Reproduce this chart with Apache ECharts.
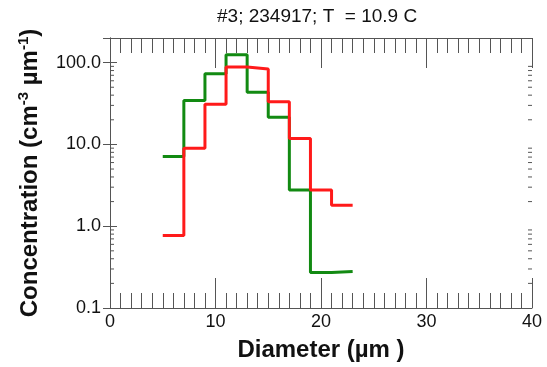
<!DOCTYPE html>
<html>
<head>
<meta charset="utf-8">
<script src="https://cdn.jsdelivr.net/npm/echarts@6/dist/echarts.min.js"></script>
<style>
  html, body { margin: 0; padding: 0; background: #fff; }
  #chart { width: 547px; height: 367px; }
</style>
</head>
<body>
<div id="chart"></div>
<script>
// bin edges (µm) and concentrations per bin
var binEdges = [5, 7, 9, 11, 13, 15, 17, 19, 21, 23];
var greenConc = [7.1, 34.4, 73, 125, 43.4, 21.5, 2.77, 0.272, 0.28];
var redConc = [0.77, 9.0, 31, 88.6, 83.8, 33.2, 11.8, 2.77, 1.8];
var yTickLabels = ['0.1', '1.0', '10.0', '100.0'];
var minorLogTicks = [0.2, 0.3, 0.4, 0.5, 0.6, 0.7, 0.8, 0.9,
  2, 3, 4, 5, 6, 7, 8, 9, 20, 30, 40, 50, 60, 70, 80, 90];

// step points: left edge of each bin, plus final right edge
function stepData(vals) {
  var out = [];
  for (var i = 0; i < vals.length; i++) out.push([binEdges[i], vals[i]]);
  out.push([binEdges[binEdges.length - 1], vals[vals.length - 1]]);
  return out;
}

var axisColor = '#555';
var font = 'Liberation Sans, Arial, sans-serif';

let myChart = echarts.init(document.getElementById('chart'));

let xCommon = {
  type: 'value',
  min: 0,
  max: 40,
  interval: 10,
  axisLine: { show: true, lineStyle: { color: axisColor, width: 1 } },
  axisTick: { show: true, inside: true, length: 30, lineStyle: { color: axisColor } },
  minorTick: { show: true, splitNumber: 10, length: 15, lineStyle: { color: axisColor } },
  splitLine: { show: false }
};

let yCommon = {
  type: 'log',
  logBase: 10,
  min: 0.1,
  max: 200,
  axisLine: { show: true, lineStyle: { color: axisColor, width: 1 } },
  axisTick: { show: true, inside: true, length: 7, lineStyle: { color: axisColor } },
  splitLine: { show: false }
};

let option = {
  animation: false,
  title: {
    text: '#3; 234917; T  = 10.9 C',
    left: 212,
    top: 2,
    textStyle: { fontSize: 19, fontWeight: 'normal', color: '#111', fontFamily: font }
  },
  grid: { left: 110, right: 15, top: 38, bottom: 58 },
  xAxis: [
    Object.assign({}, xCommon, {
      position: 'bottom',
      name: 'Diameter (µm )',
      nameLocation: 'middle',
      nameGap: 30,
      nameTextStyle: { fontSize: 24, fontWeight: 'bold', color: '#111', fontFamily: font },
      axisLabel: { fontSize: 18, color: '#111', margin: 5, fontFamily: font }
    }),
    Object.assign({}, xCommon, {
      position: 'top',
      axisLabel: { show: false }
    })
  ],
  yAxis: [
    Object.assign({}, yCommon, {
      position: 'left',
      name: '{b|Concentration (cm}{s|-3}{b| µm}{s|-1}{b|)}',
      nameLocation: 'middle',
      nameGap: 66,
      nameTextStyle: {
        rich: {
          b: { fontSize: 24, fontWeight: 'bold', color: '#111', fontFamily: font, lineHeight: 28 },
          s: { fontSize: 15, fontWeight: 'bold', color: '#111', fontFamily: font, verticalAlign: 'top', lineHeight: 28, padding: [0, 0, 10, 0] }
        }
      },
      axisLabel: {
        fontSize: 18,
        color: '#111',
        margin: 9,
        fontFamily: font,
        showMaxLabel: false,
        formatter: function (v) {
          var s = v.toFixed(1);
          return yTickLabels.indexOf(s) >= 0 ? s : '';
        }
      }
    }),
    Object.assign({}, yCommon, {
      position: 'right',
      axisLabel: { show: false }
    })
  ],
  series: [
    {
      name: 'minor',
      type: 'custom',
      xAxisIndex: 0,
      yAxisIndex: 0,
      silent: true,
      data: minorLogTicks,
      renderItem: function (params, api) {
        var v = api.value(0);
        var l = api.coord([0, v]);
        var r = api.coord([40, v]);
        var st = { stroke: axisColor, lineWidth: 1 };
        return {
          type: 'group',
          children: [
            { type: 'line', shape: { x1: l[0], y1: l[1], x2: l[0] + 4, y2: l[1] }, style: st },
            { type: 'line', shape: { x1: r[0], y1: r[1], x2: r[0] - 4, y2: r[1] }, style: st }
          ]
        };
      },
      encode: { y: 0 }
    },
    {
      name: 'green',
      type: 'line',
      step: 'end',
      showSymbol: false,
      data: stepData(greenConc),
      lineStyle: { color: '#128a12', width: 3 },
      itemStyle: { color: '#128a12' }
    },
    {
      name: 'red',
      type: 'line',
      step: 'end',
      showSymbol: false,
      data: stepData(redConc),
      lineStyle: { color: '#ff1a1a', width: 3 },
      itemStyle: { color: '#ff1a1a' }
    }
  ]
};

myChart.setOption(option);
</script>
</body>
</html>
